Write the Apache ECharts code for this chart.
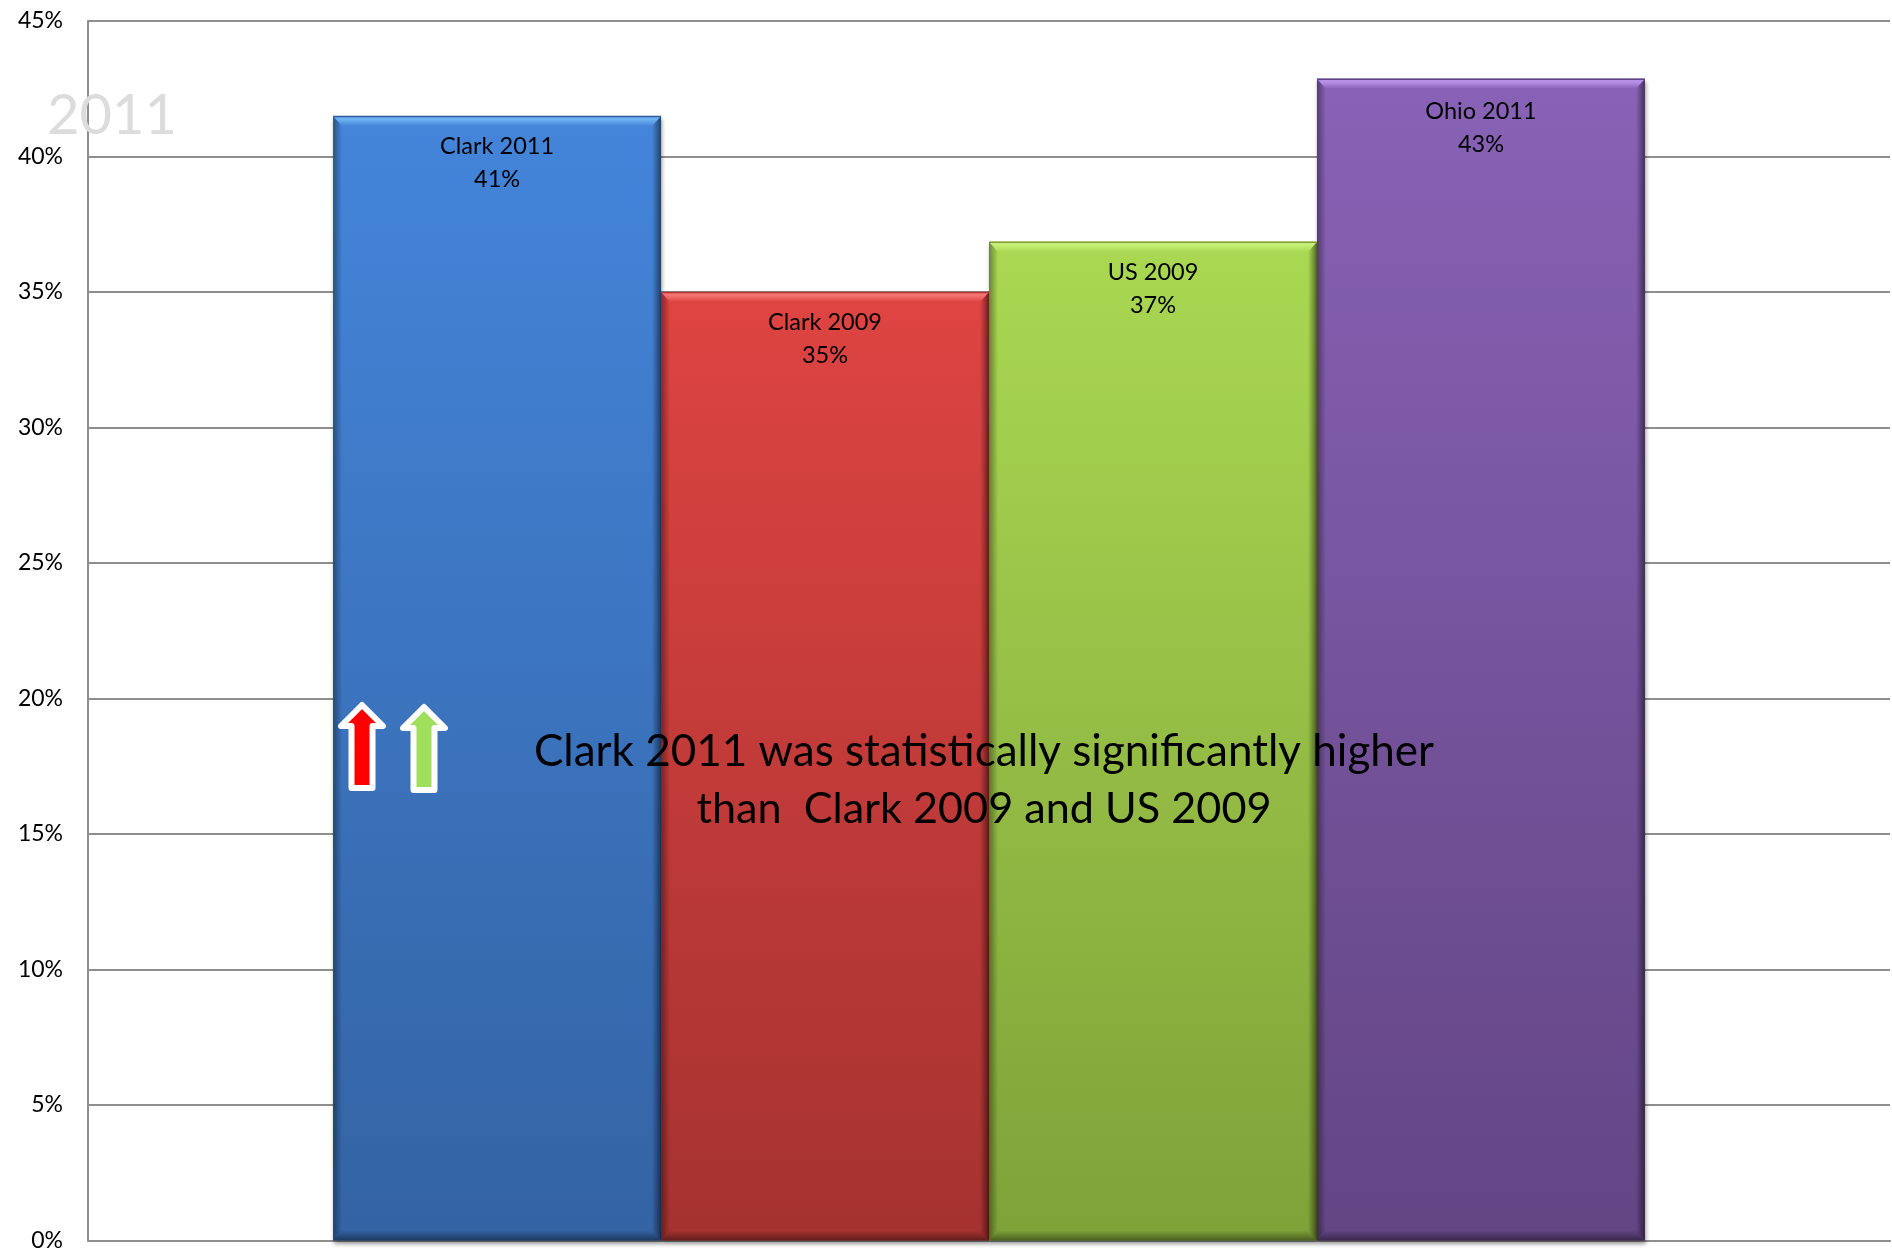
<!DOCTYPE html>
<html><head><meta charset="utf-8">
<style>html,body{margin:0;padding:0;background:#fff}#c{width:1892px;height:1252px}</style>
<script src="https://cdn.jsdelivr.net/npm/echarts@6/dist/echarts.min.js"></script>
</head><body><div id="c"></div>
<script>
const seriesNames = ['Clark 2011','Clark 2009','US 2009','Ohio 2011'];
const seriesValues = [41.49, 35.0, 36.85, 42.87];
const topColors = ['#4485DA','#DE4442','#AAD852','#8862B6'];
const bottomColors = ['#3363A3','#A53230','#7FA238','#634584'];
const bevelTop = ['#6FB0F2','#F47370','#C6EE76','#B690E6'];
const bevelEdge = ['#2F5C98','#B03432','#7F9E38','#5F4288'];
const labelDistance = [14,14,14,16];
const axisTicks = {min:0,max:45,step:5};
const noteLines = ['Clark 2011 was statistically significantly higher','than  Clark 2009 and US 2009'];
const watermark = '2011';
const FONT = 'Lato';
const GAP = 27.2;

const chart = echarts.init(document.getElementById('c'), null, {renderer:'canvas'});

function arrow(dx,dy,fill){
  const p=[[362,705],[383,726],[372.5,726],[372.5,788],[351.5,788],[351.5,726],[341,726]]
    .map(q=>[q[0]+dx,q[1]+dy]);
  return {type:'polygon',z:50,shape:{points:p},
    style:{fill:fill,stroke:'#fff',lineWidth:6,lineJoin:'round'}};
}
const G = echarts.graphic.LinearGradient;
const shade = (x,y,x2,y2,a0,a1)=>new G(x,y,x2,y2,[{offset:0,color:'rgba(0,0,0,'+a0+')'},{offset:1,color:'rgba(0,0,0,'+a1+')'}]);

const bars = seriesNames.map((n,i)=>({
  name:n,type:'bar',z:2,barGap:0,barCategoryGap:GAP+'%',
  data:[seriesValues[i]],
  itemStyle:{
    color:new G(0,0,0,1,[{offset:0,color:topColors[i]},{offset:1,color:bottomColors[i]}]),
    shadowColor:'rgba(0,0,0,0.4)',shadowBlur:4,shadowOffsetX:1,shadowOffsetY:3
  },
  label:{show:true,position:'insideTop',distance:labelDistance[i],color:'#000',fontFamily:FONT,fontSize:23.5,lineHeight:33,
    formatter:p=>p.seriesName+'\n'+Math.round(p.value)+'%'},
  emphasis:{disabled:true}
}));

const bevel = {
  type:'custom',z:3,silent:true,
  data:seriesValues.map((v,i)=>[0,v,i]),
  encode:{x:0,y:1},
  renderItem(params,api){
    const i=api.value(2), top=api.coord([0,api.value(1)]), base=api.coord([0,0]);
    const band=api.size([1,0])[0], w=band*(1-GAP/100)/4;
    const l=top[0]-2*w+i*w, r=l+w, t=top[1], b=base[1], e=10, s=9;
    const poly=(pts,fill)=>({type:'polygon',shape:{points:pts},style:{fill:fill}});
    return {type:'group',children:[
      poly([[l,t],[l+s,t+e],[l+s,b-e],[l,b]],shade(0,0,1,0,0.38,0)),
      poly([[r,t],[r-s,t+e],[r-s,b-e],[r,b]],shade(1,0,0,0,0.5,0)),
      poly([[l,b],[l+s,b-e],[r-s,b-e],[r,b]],shade(0,1,0,0,0.42,0)),
      poly([[l,t],[r,t],[r-s,t+e],[l+s,t+e]],new G(0,0,0,1,[{offset:0,color:bevelTop[i]},{offset:0.35,color:bevelTop[i]},{offset:1,color:topColors[i]}])),
      {type:'line',shape:{x1:l,y1:t+0.5,x2:r,y2:t+0.5},style:{stroke:bevelEdge[i],lineWidth:1.5}}
    ]};
  }
};

chart.setOption({
  animation:false,backgroundColor:'#fff',
  grid:{left:88,right:2,top:21,bottom:11,containLabel:false},
  xAxis:{type:'category',data:[''],axisLine:{show:true,lineStyle:{color:'#8E8E8E',width:2}},
    axisTick:{show:false},axisLabel:{show:false},splitLine:{show:false}},
  yAxis:{type:'value',min:axisTicks.min,max:axisTicks.max,interval:axisTicks.step,
    axisLine:{show:true,lineStyle:{color:'#8E8E8E',width:2}},axisTick:{show:false},
    axisLabel:{color:'#000',fontFamily:FONT,fontSize:23,margin:25,padding:[2,0,0,0],formatter:'{value}%'},
    splitLine:{show:true,lineStyle:{color:'#8E8E8E',width:2}}},
  series:[...bars,bevel],
  graphic:[
    {type:'text',z:40,left:47,top:88,style:{text:watermark,fontFamily:FONT,fontSize:56,fill:'#DCDCDC'}},
    arrow(0,0,'#FF0000'),
    arrow(62,2,'#A0DF5C'),
    {type:'text',z:60,x:984,y:752,style:{text:noteLines[0],fontFamily:FONT,fontSize:44,fill:'#000',align:'center',verticalAlign:'middle'}},
    {type:'text',z:60,x:984,y:809,style:{text:noteLines[1],fontFamily:FONT,fontSize:43.2,fill:'#000',align:'center',verticalAlign:'middle'}}
  ]
});
</script></body></html>
